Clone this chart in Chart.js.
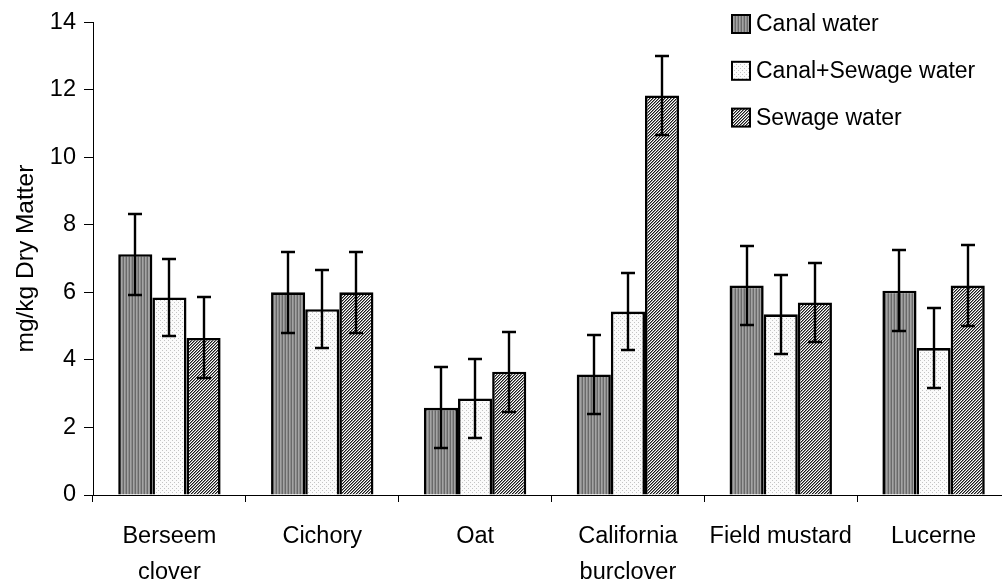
<!DOCTYPE html>
<html>
<head>
<meta charset="utf-8">
<script src="https://cdn.jsdelivr.net/npm/chart.js@4"></script>
<style>
  html, body { margin: 0; padding: 0; background: #fff; overflow: hidden; }
  #wrap { width: 1010px; height: 580px; }
</style>
</head>
<body>
<div id="wrap"><canvas id="myChart" width="1010" height="580"></canvas></div>
<script>
      // data
      const categories = [
        ["Berseem", "clover"],
        "Cichory",
        "Oat",
        ["California", "burclover"],
        "Field mustard",
        "Lucerne",
      ];
      const seriesNames = ["Canal water", "Canal+Sewage water", "Sewage water"];
      const canalWater = [7.13, 6.0, 2.58, 3.57, 6.2, 6.05];
      const canalSewageWater = [5.85, 5.5, 2.86, 5.43, 5.35, 4.35];
      const sewageWater = [4.65, 6.0, 3.65, 11.83, 5.7, 6.2];
      const canalErr = [1.2, 1.2, 1.2, 1.17, 1.18, 1.2];
      const canalSewageErr = [1.14, 1.15, 1.16, 1.15, 1.17, 1.18];
      const sewageErr = [1.2, 1.2, 1.18, 1.17, 1.18, 1.2];
      const yTicks = [0, 2, 4, 6, 8, 10, 12, 14];

      const FONT = "'Liberation Sans', Arial, sans-serif";

      // fill patterns like the old spreadsheet hatches
      function makePattern(size, painter) {
        const c = document.createElement("canvas");
        c.width = size;
        c.height = size;
        const g = c.getContext("2d");
        painter(g);
        return g.createPattern(c, "repeat");
      }

      const stripes = makePattern(3, (g) => {
        const cols = ["#6a6a6a", "#a4a4a4", "#8c8c8c"];
        cols.forEach((c, i) => {
          g.fillStyle = c;
          g.fillRect(i, 0, 1, 3);
        });
      });
      const dots = makePattern(4, (g) => {
        g.fillStyle = "#fbfbfb";
        g.fillRect(0, 0, 4, 4);
        g.fillStyle = "#c4c4c4";
        g.fillRect(0, 0, 1, 1);
        g.fillRect(2, 2, 1, 1);
      });
      const hatch = makePattern(3, (g) => {
        g.fillStyle = "#ffffff";
        g.fillRect(0, 0, 3, 3);
        for (let x = 0; x < 3; x++) {
          for (let y = 0; y < 3; y++) {
            const k = (x + y) % 3;
            if (k === 0) { g.fillStyle = "#1a1a1a"; g.fillRect(x, y, 1, 1); }
            if (k === 1) { g.fillStyle = "#8a8a8a"; g.fillRect(x, y, 1, 1); }
          }
        }
      });
      const fills = [stripes, dots, hatch];
      const errors = [canalErr, canalSewageErr, sewageErr];

      // error bar plugin block
      const errorBars = {
        id: "errorBars",
        afterDatasetsDraw(chart) {
          const { ctx, scales: { y } } = chart;
          ctx.save();
          ctx.strokeStyle = "#000";
          ctx.lineWidth = 2.4;
          chart.data.datasets.forEach((ds, di) => {
            const meta = chart.getDatasetMeta(di);
            meta.data.forEach((bar, i) => {
              const v = ds.data[i];
              const e = errors[di][i];
              const top = Math.round(y.getPixelForValue(v + e));
              const bot = Math.round(y.getPixelForValue(v - e));
              const x = Math.round(bar.x);
              ctx.beginPath();
              ctx.moveTo(x, top);
              ctx.lineTo(x, bot);
              ctx.moveTo(x - 7, top);
              ctx.lineTo(x + 7, top);
              ctx.moveTo(x - 7, bot);
              ctx.lineTo(x + 7, bot);
              ctx.stroke();
            });
          });
          ctx.restore();
        },
      };

      // legend plugin block (stacked list in the top right)
      const boxLegend = {
        id: "boxLegend",
        afterDraw(chart) {
          const { ctx } = chart;
          ctx.save();
          ctx.font = "23px " + FONT;
          ctx.textBaseline = "middle";
          ctx.textAlign = "left";
          chart.data.datasets.forEach((ds, i) => {
            const cy = 24 + i * 46.8;
            ctx.fillStyle = ds.backgroundColor;
            ctx.fillRect(732, cy - 9, 18, 18);
            ctx.lineWidth = 2;
            ctx.strokeStyle = "#000";
            ctx.strokeRect(732, cy - 9, 18, 18);
            ctx.fillStyle = "#000";
            ctx.fillText(ds.label, 756, cy + 1);
          });
          ctx.restore();
        },
      };

      const data = {
        labels: categories,
        datasets: [canalWater, canalSewageWater, sewageWater].map((vals, i) => ({
          label: seriesNames[i],
          data: vals,
          backgroundColor: fills[i],
          borderColor: "#000",
          borderWidth: 2.6,
          borderSkipped: "bottom",
          categoryPercentage: 0.67,
          barPercentage: 1.0,
        })),
      };

      const config = {
        type: "bar",
        data,
        options: {
          responsive: false,
          animation: false,
          devicePixelRatio: 1,
          layout: { padding: { top: 22, right: 0, bottom: 0, left: 0 } },
          scales: {
            x: {
              grid: {
                display: true,
                drawOnChartArea: false,
                drawTicks: true,
                tickLength: 7,
                color: "#000",
                offset: true,
              },
              border: { color: "#000", width: 1 },
              ticks: {
                color: "#000",
                font: { family: FONT, size: 23.5, lineHeight: 1.52 },
                padding: 17,
                maxRotation: 0,
                autoSkip: false,
              },
              afterFit: (scale) => { scale.height = 85; },
            },
            y: {
              min: 0,
              max: 14,
              afterBuildTicks: (scale) => {
                scale.ticks = yTicks.map((v) => ({ value: v }));
              },
              grid: {
                drawOnChartArea: false,
                drawTicks: true,
                tickLength: 9,
                color: "#000",
              },
              border: { color: "#000", width: 1 },
              ticks: {
                color: "#000",
                font: { family: FONT, size: 23.5 },
                padding: 8,
              },
              title: {
                display: true,
                text: "mg/kg Dry Matter",
                color: "#000",
                font: { family: FONT, size: 24.5 },
                padding: { top: 12, bottom: 0 },
              },
              afterFit: (scale) => { scale.width = 93; },
            },
          },
          plugins: {
            legend: { display: false },
            tooltip: { enabled: false },
          },
        },
        plugins: [errorBars, boxLegend],
      };

      const myChart = new Chart(document.getElementById("myChart"), config);
</script>
</body>
</html>
